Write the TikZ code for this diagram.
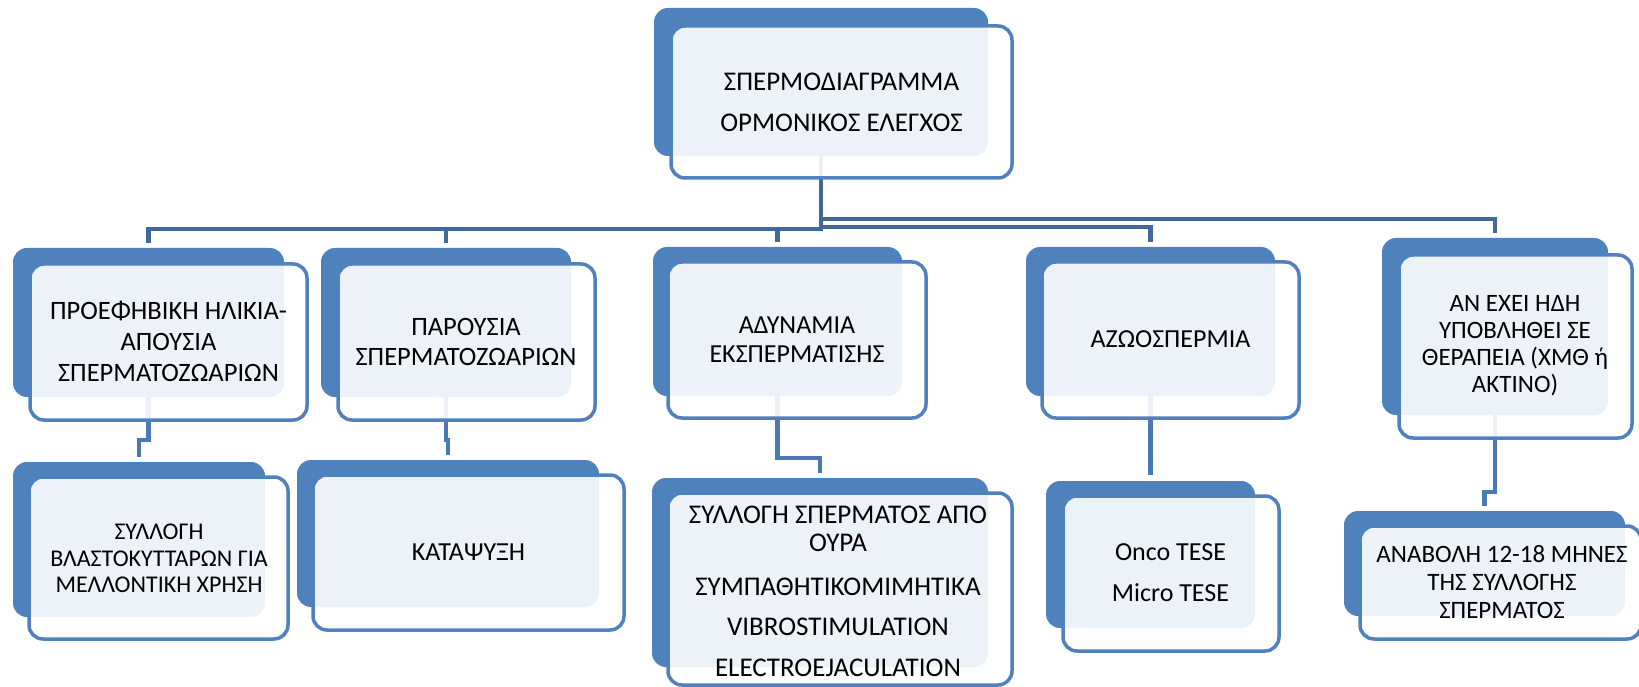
\documentclass[tikz,border=0pt]{standalone}
\usepackage{fontspec}
\setmainfont{Carlito}
\usetikzlibrary{fit,backgrounds}
\definecolor{accblue}{HTML}{4F81BD}
\definecolor{connblue}{HTML}{41689B}
\definecolor{lowblue}{HTML}{4A7AB5}
\newcommand{\fs}[2]{\fontsize{#1pt}{#2pt}\selectfont}
\begin{document}
\begin{tikzpicture}[x=1pt,y=-1pt,
  backbox/.style={fill=accblue, draw=none, rounded corners=14pt, inner sep=0pt},
  frontbox/.style={fill=white, fill opacity=0.9, draw=accblue, line width=3.5pt, rounded corners=14pt, inner sep=0pt},
  boxtext/.style={align=center, inner sep=0pt, text=black},
  topconn/.style={draw=connblue, line width=4.5pt},
  lowconn/.style={draw=lowblue, line width=4.5pt},
]
\useasboundingbox (0,0) rectangle (1639,687);

% top box
\node[backbox, fit={(654,8) (988,156)}] (bT) {};
\node[frontbox, fit={(671,26) (1012,178)}] (fT) {};
\node[boxtext, font=\fs{27}{31}] (tT) at (841.5,102.5) {ΣΠΕΡΜΟΔΙΑΓΡΑΜΜΑ\\[10pt]ΟΡΜΟΝΙΚΟΣ ΕΛΕΓΧΟΣ};

% level 2
\node[backbox, fit={(13,248) (284,397)}] (b1) {};
\node[frontbox, fit={(30,264) (307,420)}] (f1) {};
\node[boxtext, font=\fs{26.5}{31}] (t1) at (168.5,341) {ΠΡΟΕΦΗΒΙΚΗ ΗΛΙΚΙΑ-\\ΑΠΟΥΣΙΑ\\ΣΠΕΡΜΑΤΟΖΩΑΡΙΩΝ};

\node[backbox, fit={(321,248) (571,397)}] (b2) {};
\node[frontbox, fit={(338,264) (595,420)}] (f2) {};
\node[boxtext, font=\fs{26.5}{30}] (t2) at (466,342) {ΠΑΡΟΥΣΙΑ\\ΣΠΕΡΜΑΤΟΖΩΑΡΙΩΝ};

\node[backbox, fit={(653,247) (902,396)}] (b3) {};
\node[frontbox, fit={(668,262) (926,418)}] (f3) {};
\node[boxtext, font=\fs{26}{29}] (t3) at (797,339.5) {ΑΔΥΝΑΜΙΑ\\ΕΚΣΠΕΡΜΑΤΙΣΗΣ};

\node[backbox, fit={(1026,247) (1275,396)}] (b4) {};
\node[frontbox, fit={(1042,262) (1299,418)}] (f4) {};
\node[boxtext, font=\fs{26}{29}] (t4) at (1170.5,339) {ΑΖΩΟΣΠΕΡΜΙΑ};

\node[backbox, fit={(1382,238) (1608,415)}] (b5) {};
\node[frontbox, fit={(1399,255) (1632,438)}] (f5) {};
\node[boxtext, font=\fs{25}{27}] (t5) at (1515,345.5) {ΑΝ ΕΧΕΙ ΗΔΗ\\ΥΠΟΒΛΗΘΕΙ ΣΕ\\ΘΕΡΑΠΕΙΑ (ΧΜΘ ή\\ΑΚΤΙΝΟ)};

% level 3
\node[backbox, fit={(13,462) (265,617)}] (c1) {};
\node[frontbox, fit={(29,477) (288,639)}] (g1) {};
\node[boxtext, font=\fs{24}{26.5}] (u1) at (159,558.5) {ΣΥΛΛΟΓΗ\\ΒΛΑΣΤΟΚΥΤΤΑΡΩΝ ΓΙΑ\\ΜΕΛΛΟΝΤΙΚΗ ΧΡΗΣΗ};

\node[backbox, fit={(297,460) (599,607)}] (c2) {};
\node[frontbox, fit={(313,475) (624,630)}] (g2) {};
\node[boxtext, font=\fs{26}{29}] (u2) at (468.5,552) {ΚΑΤΑΨΥΞΗ};

\node[backbox, fit={(652,478) (988,667)}] (c3) {};
\node[frontbox, fit={(668,493) (1012,685)}] (g3) {};
\node[boxtext, font=\fs{27}{28}] (u3) at (838,591.5) {ΣΥΛΛΟΓΗ ΣΠΕΡΜΑΤΟΣ ΑΠΌ\\ΟΥΡΑ\\[16pt]ΣΥΜΠΑΘΗΤΙΚΟΜΙΜΗΤΙΚΑ\\[12pt]VIBROSTIMULATION\\[13pt]ELECTROEJACULATION};

\node[backbox, fit={(1046,481) (1255,628)}] (c4) {};
\node[frontbox, fit={(1063,496) (1279,651)}] (g4) {};
\node[boxtext, font=\fs{26}{28}] (u4) at (1170.5,572.5) {Onco TESE\\[13pt]Micro TESE};

\node[backbox, fit={(1344,511) (1625,616)}] (c5) {};
\node[frontbox, fit={(1360,526) (1641,639)}] (g5) {};
\node[boxtext, font=\fs{25}{28}] (u5) at (1502,582) {ΑΝΑΒΟΛΗ 12-18 ΜΗΝΕΣ\\ΤΗΣ ΣΥΛΛΟΓΗΣ\\ΣΠΕΡΜΑΤΟΣ};

\coordinate (h229) at (0,229);
\coordinate (h227) at (0,227);
\coordinate (h219) at (0,219);
\coordinate (j1) at (0,440);
\coordinate (j3) at (0,458);
\coordinate (j5) at (0,492);

\begin{pgfonlayer}{background}
\draw[topconn] (bT.south) -- (bT.south |- h229) -| ([yshift=5pt]b1.north);
\draw[topconn] (bT.south) -- (bT.south |- h229) -| ([yshift=5pt]b2.north);
\draw[topconn] (bT.south) -- (bT.south |- h229) -| ([yshift=5pt]b3.north);
\draw[topconn] (bT.south) -- (bT.south |- h227) -| ([yshift=5pt]b4.north);
\draw[topconn] (bT.south) -- (bT.south |- h219) -| ([yshift=5pt]b5.north);
\draw[lowconn] (b1.south) -- (b1.south |- j1) -| ([yshift=5pt]c1.north);
\draw[lowconn] (b2.south) -- (b2.south |- j1) -| ([yshift=5pt]c2.north);
\draw[lowconn] (b3.south) -- (b3.south |- j3) -| ([yshift=5pt]c3.north);
\draw[lowconn] (b4.south) -- ([yshift=6pt]c4.north);
\draw[lowconn] (b5.south) -- (b5.south |- j5) -| ([yshift=5pt]c5.north);
\end{pgfonlayer}
\end{tikzpicture}
\end{document}
